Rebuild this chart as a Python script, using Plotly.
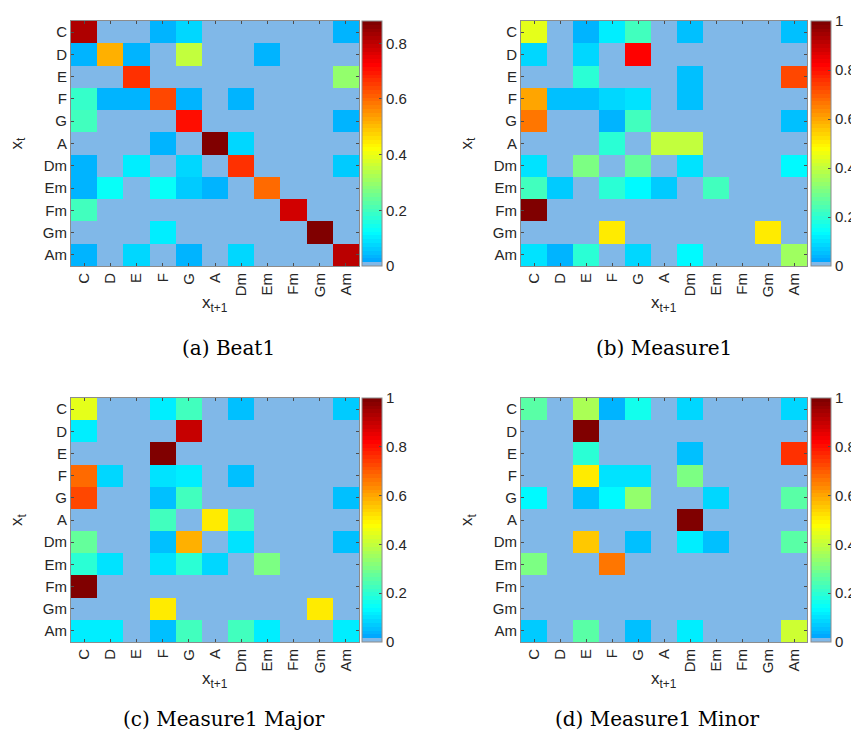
import plotly.graph_objects as go

chords = ["C", "D", "E", "F", "G", "A", "Dm", "Em", "Fm", "Gm", "Am"]

# rows = x_t, columns = x_{t+1}
beat1 = [
    [0.82, 0, 0, 0.03, 0.075, 0, 0, 0, 0, 0, 0.03],
    [0.03, 0.51, 0.03, 0, 0.35, 0, 0, 0.04, 0, 0, 0],
    [0, 0, 0.66, 0, 0, 0, 0, 0, 0, 0, 0.29],
    [0.19, 0.03, 0.03, 0.64, 0.04, 0, 0.04, 0, 0, 0, 0],
    [0.2, 0, 0, 0, 0.71, 0, 0, 0, 0, 0, 0.04],
    [0, 0, 0, 0.04, 0, 0.88, 0.08, 0, 0, 0, 0],
    [0.04, 0, 0.1, 0, 0.08, 0, 0.66, 0, 0, 0, 0.06],
    [0.03, 0.13, 0, 0.13, 0.06, 0.03, 0, 0.6, 0, 0, 0],
    [0.2, 0, 0, 0, 0, 0, 0, 0, 0.78, 0, 0],
    [0, 0, 0, 0.1, 0, 0, 0, 0, 0, 0.87, 0],
    [0.04, 0, 0.07, 0, 0.03, 0, 0.07, 0, 0, 0, 0.8],
]

measure1 = [
    [0.45, 0, 0.04, 0.12, 0.23, 0, 0.05, 0, 0, 0, 0.05],
    [0.08, 0, 0.08, 0, 0.82, 0, 0, 0, 0, 0, 0],
    [0, 0, 0.2, 0, 0, 0, 0.05, 0, 0, 0, 0.73],
    [0.6, 0.05, 0.05, 0.08, 0.1, 0, 0.05, 0, 0, 0, 0],
    [0.67, 0, 0, 0.04, 0.22, 0, 0, 0, 0, 0, 0.06],
    [0, 0, 0, 0.2, 0, 0.4, 0.4, 0, 0, 0, 0],
    [0.1, 0, 0.3, 0, 0.27, 0, 0.1, 0, 0, 0, 0.14],
    [0.22, 0.07, 0, 0.2, 0.14, 0.07, 0, 0.22, 0, 0, 0],
    [1.0, 0, 0, 0, 0, 0, 0, 0, 0, 0, 0],
    [0, 0, 0, 0.5, 0, 0, 0, 0, 0, 0.5, 0],
    [0.1, 0.04, 0.2, 0, 0.08, 0, 0.14, 0, 0, 0, 0.35],
]

measure1_major = [
    [0.45, 0, 0, 0.12, 0.23, 0, 0.06, 0, 0, 0, 0.07],
    [0.11, 0, 0, 0, 0.9, 0, 0, 0, 0, 0, 0],
    [0, 0, 0, 1.0, 0, 0, 0, 0, 0, 0, 0],
    [0.68, 0.08, 0, 0.1, 0.12, 0, 0.05, 0, 0, 0, 0],
    [0.72, 0, 0, 0.05, 0.22, 0, 0, 0, 0, 0, 0.05],
    [0, 0, 0, 0.22, 0, 0.5, 0.22, 0, 0, 0, 0],
    [0.27, 0, 0, 0.05, 0.58, 0, 0.1, 0, 0, 0, 0.05],
    [0.2, 0.1, 0, 0.1, 0.2, 0.09, 0, 0.3, 0, 0, 0],
    [1.0, 0, 0, 0, 0, 0, 0, 0, 0, 0, 0],
    [0, 0, 0, 0.5, 0, 0, 0, 0, 0, 0.5, 0],
    [0.12, 0.12, 0, 0.05, 0.22, 0, 0.22, 0.11, 0, 0, 0.12],
]

measure1_minor = [
    [0.26, 0, 0.36, 0.04, 0.17, 0, 0.08, 0, 0, 0, 0.09],
    [0, 0, 1.0, 0, 0, 0, 0, 0, 0, 0, 0],
    [0, 0, 0.2, 0, 0, 0, 0.05, 0, 0, 0, 0.75],
    [0, 0, 0.5, 0.1, 0.1, 0, 0.3, 0, 0, 0, 0],
    [0.14, 0, 0.05, 0.14, 0.33, 0, 0, 0.08, 0, 0, 0.25],
    [0, 0, 0, 0, 0, 0, 1.0, 0, 0, 0, 0],
    [0, 0, 0.55, 0, 0.05, 0, 0.12, 0.05, 0, 0, 0.25],
    [0.3, 0, 0, 0.67, 0, 0, 0, 0, 0, 0, 0],
    [0, 0, 0, 0, 0, 0, 0, 0, 0, 0, 0],
    [0, 0, 0, 0, 0, 0, 0, 0, 0, 0, 0],
    [0.07, 0, 0.25, 0, 0.06, 0, 0.11, 0, 0, 0, 0.42],
]

captions = ["(a) Beat1", "(b) Measure1", "(c) Measure1 Major", "(d) Measure1 Minor"]
cmaxes = [0.88, 1.0, 1.0, 1.0]
cticks = [[0, 0.2, 0.4, 0.6, 0.8], [0, 0.2, 0.4, 0.6, 0.8, 1], [0, 0.2, 0.4, 0.6, 0.8, 1], [0, 0.2, 0.4, 0.6, 0.8, 1]]
matrices = [beat1, measure1, measure1_major, measure1_minor]


def jet(p):
    def c(v):
        return max(0.0, min(1.0, v))
    r = c(1.5 - abs(4 * p - 3))
    g = c(1.5 - abs(4 * p - 2))
    b = c(1.5 - abs(4 * p - 1))
    return "rgb(%d,%d,%d)" % (round(r * 255), round(g * 255), round(b * 255))


N = 64
P0 = 0.29
colors = ["rgb(128,184,232)"] + [jet(P0 + (1 - P0) * i / (N - 2)) for i in range(N - 1)]
colorscale = []
for i, col in enumerate(colors):
    colorscale.append([i / N, col])
    colorscale.append([(i + 1) / N, col])

W, H = 859, 736
# pixel boxes of plot areas: (x0, x1, y0, y1)
boxes = [(63, 351, 13, 258), (513, 799, 13, 258), (63, 351, 390, 634), (513, 799, 390, 634)]
cbx = [354, 803, 354, 803]
cap_x = [220, 656, 216, 649]
cap_y = [340, 340, 711, 711]

fig = go.Figure()
annotations = []
font_color = "#262626"
for k in range(4):
    x0, x1, y0, y1 = boxes[k]
    sfx = "" if k == 0 else str(k + 1)
    ca = "coloraxis" + sfx
    fig.add_trace(go.Heatmap(z=matrices[k], x=chords, y=chords, coloraxis=ca,
                             xaxis="x" + sfx, yaxis="y" + sfx, xgap=0, ygap=0))
    dom_x = [x0 / W, x1 / W]
    dom_y = [1 - y1 / H, 1 - y0 / H]
    axcommon = dict(showline=True, linecolor="#8c8c8c", linewidth=1, mirror="ticks",
                    ticks="inside", ticklen=3, tickcolor="#4d4d4d",
                    tickfont=dict(family="Liberation Sans, Arial", size=15, color=font_color),
                    showgrid=False, zeroline=False, fixedrange=True)
    fig.update_layout(**{
        "xaxis" + sfx: dict(domain=dom_x, anchor="y" + sfx, tickangle=-90,
                            range=[-0.5, 10.5], type="category", **axcommon),
        "yaxis" + sfx: dict(domain=dom_y, anchor="x" + sfx, autorange="reversed",
                            type="category", **axcommon),
        ca: dict(cmin=0, cmax=cmaxes[k], colorscale=colorscale,
                 colorbar=dict(x=cbx[k] / W, xanchor="left", xpad=0, ypad=0,
                               y=1 - (y0 + y1) / 2 / H, yanchor="middle",
                               len=(y1 - y0) / H, lenmode="fraction",
                               thickness=20, thicknessmode="pixels",
                               outlinecolor="#8c8c8c", outlinewidth=1,
                               tickvals=cticks[k], ticktext=[("%g" % t) for t in cticks[k]],
                               ticks="inside", ticklen=3, tickcolor="#4d4d4d",
                               tickfont=dict(family="Liberation Sans, Arial", size=15, color=font_color))),
    })
    cx = (x0 + x1) / 2
    annotations.append(dict(text="x<sub>t+1</sub>", x=cx / W, y=1 - (y1 + 38) / H,
                            xref="paper", yref="paper", showarrow=False, xanchor="center",
                            yanchor="middle",
                            font=dict(family="Liberation Sans, Arial", size=17, color=font_color)))
    annotations.append(dict(text="x<sub>t</sub>", x=(x0 - 53) / W, y=1 - (y0 + y1) / 2 / H,
                            xref="paper", yref="paper", showarrow=False, textangle=-90,
                            xanchor="center", yanchor="middle",
                            font=dict(family="Liberation Sans, Arial", size=17, color=font_color)))
    annotations.append(dict(text=captions[k], x=cap_x[k] / W, y=1 - cap_y[k] / H,
                            xref="paper", yref="paper", showarrow=False, xanchor="center",
                            yanchor="middle",
                            font=dict(family="DejaVu Serif, Liberation Serif", size=20, color="black")))

fig.update_layout(width=W, height=H, margin=dict(l=0, r=0, t=0, b=0),
                  paper_bgcolor="white", plot_bgcolor="white", annotations=annotations,
                  showlegend=False)
fig.write_html("out.html")
